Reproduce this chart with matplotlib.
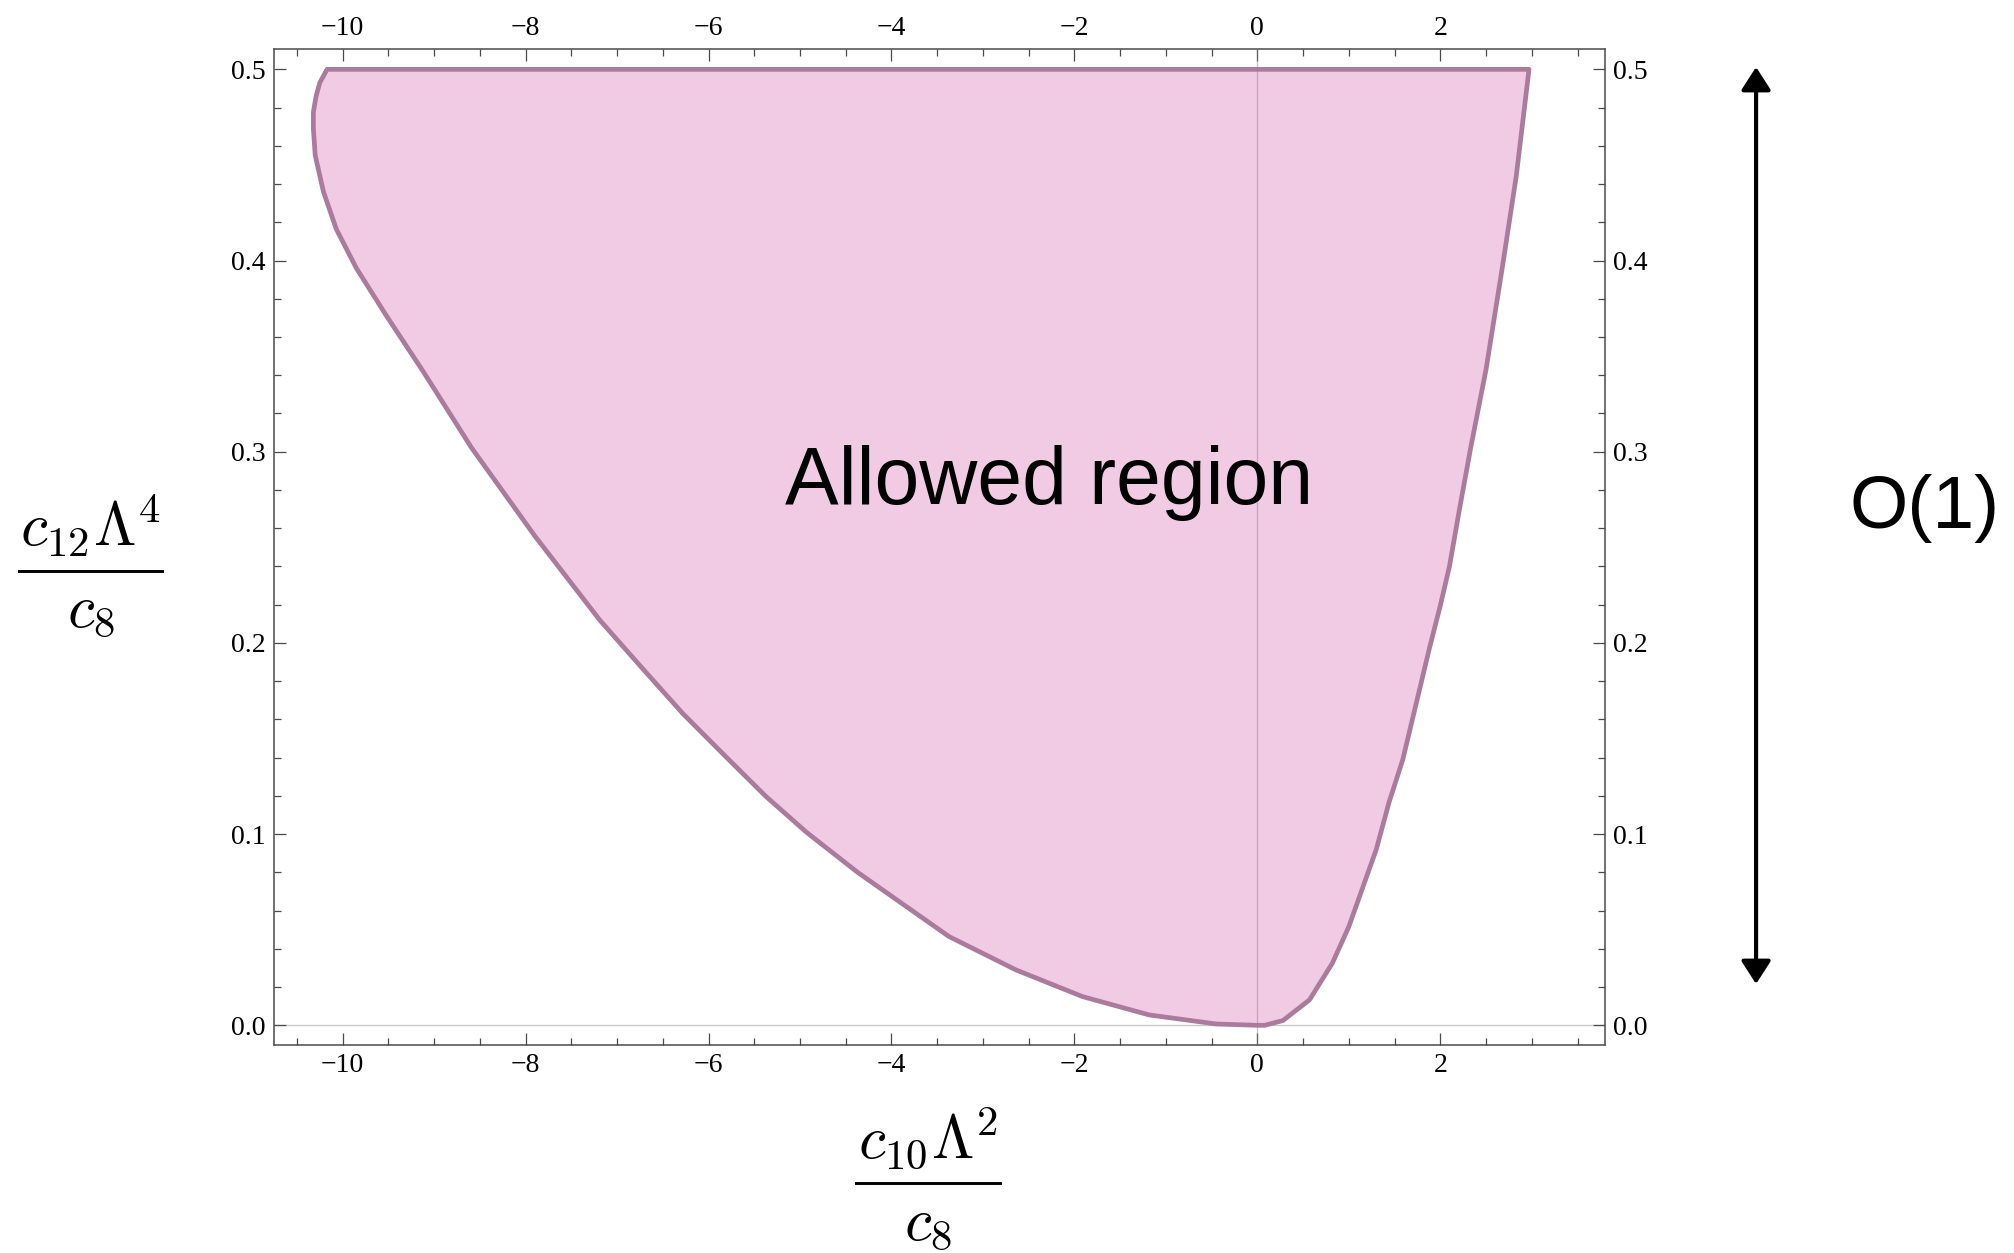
import matplotlib
matplotlib.use("Agg")
import matplotlib.pyplot as plt
from matplotlib.lines import Line2D
from matplotlib.ticker import MultipleLocator, FormatStrFormatter

plt.rcParams['mathtext.fontset'] = 'cm'

# boundary of the allowed region
# left branch, from the top corner down to the origin
left_x = [-10.17, -10.25, -10.29, -10.32, -10.32, -10.30, -10.21, -10.07, -9.85,
          -9.52, -9.12, -8.59, -7.90, -7.19, -6.74, -6.28, -5.83, -5.37, -4.93,
          -4.37, -3.37, -2.64, -1.91, -1.18, -0.45, 0.0]
left_y = [0.500, 0.493, 0.486, 0.4776, 0.469, 0.455, 0.436, 0.4165, 0.396,
          0.371, 0.342, 0.302, 0.256, 0.212, 0.1876, 0.163, 0.1414, 0.1196, 0.101,
          0.080, 0.0464, 0.029, 0.015, 0.0054, 0.0007, 0.0]
# right branch, from the origin up to the top corner
right_x = [0.08, 0.28, 0.57, 0.82, 1.00, 1.30, 1.44, 1.59, 1.73, 1.88, 2.00,
           2.10, 2.21, 2.33, 2.50, 2.68, 2.83, 2.97]
right_y = [0.0, 0.0025, 0.0133, 0.0325, 0.0516, 0.092, 0.1167, 0.139, 0.167,
           0.197, 0.2195, 0.240, 0.270, 0.3015, 0.343, 0.397, 0.444, 0.500]

x_lim = (-10.75, 3.8)
y_lim = (-0.0103, 0.5107)

fill_col = '#f1cbe4'
edge_col = '#aa7b9c'
frame_col = '#4a4a4a'

fig = plt.figure(figsize=(20.15, 12.53), dpi=100)
ax = fig.add_axes([0.136, 0.166, 0.6605, 0.795])

bx = left_x + right_x
by = left_y + right_y
ax.fill(bx, by, facecolor=fill_col, edgecolor=edge_col, lw=3.4,
        joinstyle='round', zorder=2)

# Mathematica style axes through the origin
ax.axvline(0, color='#888888', alpha=0.45, lw=1.0, zorder=3)
ax.axhline(0, color='#888888', alpha=0.45, lw=1.0, zorder=1)

ax.set_xlim(*x_lim)
ax.set_ylim(*y_lim)

ax.xaxis.set_major_locator(MultipleLocator(2))
ax.xaxis.set_minor_locator(MultipleLocator(0.5))
ax.yaxis.set_major_locator(MultipleLocator(0.1))
ax.yaxis.set_minor_locator(MultipleLocator(0.02))
ax.yaxis.set_major_formatter(FormatStrFormatter('%.1f'))

for s in ax.spines.values():
    s.set_color(frame_col)
    s.set_linewidth(1.1)

ax.tick_params(which='both', direction='in', top=True, right=True,
               labeltop=True, labelright=True, color=frame_col, width=0.9)
ax.tick_params(which='major', length=8.5, labelsize=20, pad=6)
ax.tick_params(which='minor', length=5)
ax.xaxis.set_tick_params(labelfontfamily='Liberation Serif')
ax.yaxis.set_tick_params(labelfontfamily='Liberation Serif')

ax.text(-2.28, 0.2727, 'Allowed region', family='Liberation Sans', fontsize=58,
        ha='center', va='baseline', zorder=4)


def frac_label(xc, ybar, half_w, num, den):
    # numerator, bar, denominator placed like Mathematica does it
    fig.text(xc, ybar + 0.0195, num, fontsize=44, ha='center', va='baseline')
    fig.text(xc, ybar - 0.0445, den, fontsize=44, ha='center', va='baseline')
    fig.add_artist(Line2D([xc - half_w, xc + half_w], [ybar, ybar],
                          transform=fig.transFigure, color='black', lw=2.1))


frac_label(0.4605, 0.0555, 0.0357, r'$c_{10}\Lambda^2$', r'$c_8$')
frac_label(0.0449, 0.5443, 0.0355, r'$c_{12}\Lambda^4$', r'$c_8$')

# O(1) arrow on the right
ax.annotate('', xy=(0.8715, 0.9465), xytext=(0.8715, 0.2147),
            xycoords='figure fraction', textcoords='figure fraction',
            arrowprops=dict(arrowstyle='<|-|>,head_length=0.7,head_width=0.45',
                            mutation_scale=20, lw=3, color='black',
                            shrinkA=0, shrinkB=0))
fig.text(0.955, 0.579, 'O(1)', family='Liberation Sans', fontsize=54,
         ha='center', va='baseline')

fig.savefig('out.png', dpi=100)
